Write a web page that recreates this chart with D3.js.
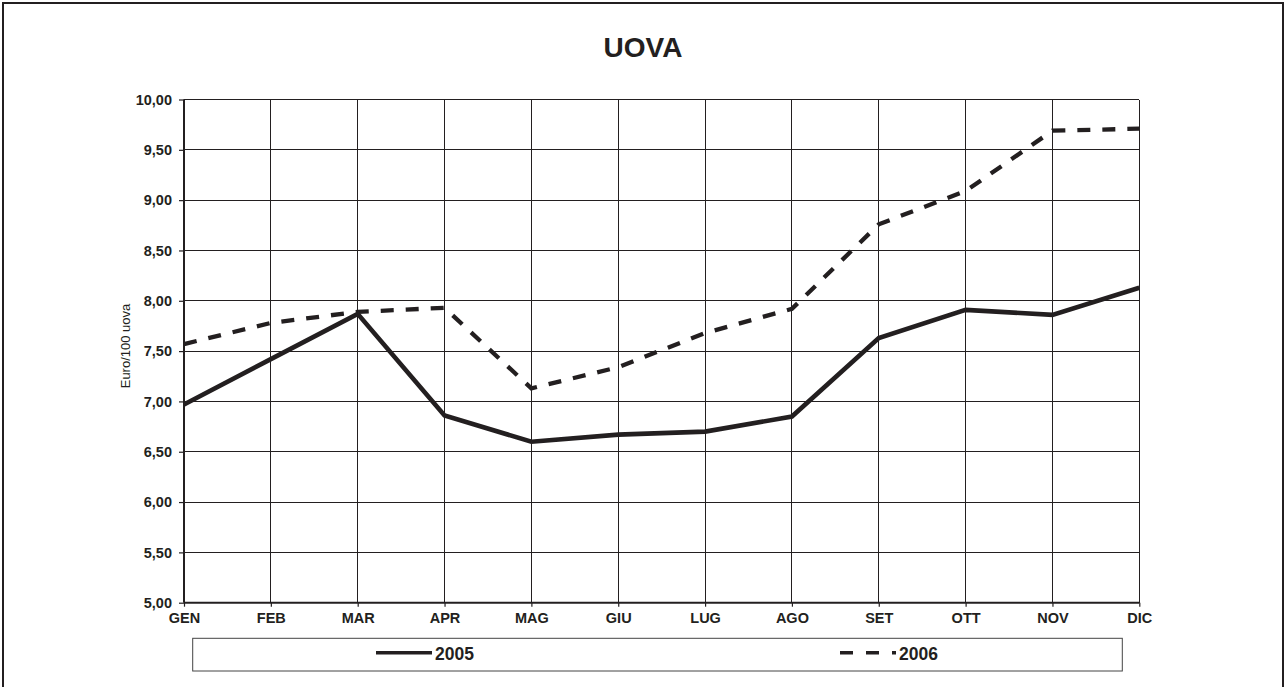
<!DOCTYPE html>
<html>
<head>
<meta charset="utf-8">
<script src="https://cdn.jsdelivr.net/npm/d3@7"></script>
<style>
  body { margin: 0; background: #fff; }
  svg { display: block; font-family: Arial, "Liberation Sans", sans-serif; }
</style>
</head>
<body>
<script>
const width = 1286;
const height = 687;

const months = ['GEN', 'FEB', 'MAR', 'APR', 'MAG', 'GIU', 'LUG', 'AGO', 'SET', 'OTT', 'NOV', 'DIC'];
const values2005 = [6.97, 7.42, 7.87, 6.86, 6.60, 6.67, 6.70, 6.85, 7.63, 7.91, 7.86, 8.13];
const values2006 = [7.57, 7.78, 7.89, 7.93, 7.13, 7.34, 7.68, 7.92, 8.76, 9.09, 9.69, 9.71];
const yTicks = [5, 5.5, 6, 6.5, 7, 7.5, 8, 8.5, 9, 9.5, 10];

const ink = '#231f20';

const svg = d3.select('body').append('svg')
  .attr('width', width)
  .attr('height', height);

// outer frame
svg.append('rect')
  .attr('x', 3).attr('y', 3)
  .attr('width', 1280).attr('height', 720)
  .attr('fill', 'none')
  .attr('stroke', ink)
  .attr('stroke-width', 2);

const x = d3.scalePoint().domain(months).range([184, 1139.3]);
const y = d3.scaleLinear().domain([5, 10]).range([602.7, 99.5]);

const it = d3.formatLocale({ decimal: ',', thousands: '.', grouping: [3], currency: ['€', ''] });
const fmt = it.format('.2f');

// grid
const grid = svg.append('g').attr('stroke', ink).attr('stroke-width', 1).attr('shape-rendering', 'crispEdges');
grid.selectAll('.hg')
  .data(yTicks)
  .join('line')
  .attr('x1', x('GEN')).attr('x2', x('DIC'))
  .attr('y1', d => y(d)).attr('y2', d => y(d));
grid.selectAll('.vg')
  .data(months)
  .join('line')
  .attr('x1', d => x(d)).attr('x2', d => x(d))
  .attr('y1', y(10)).attr('y2', y(5));

// axes
const yAxis = svg.append('g')
  .attr('transform', `translate(${x('GEN')},0)`)
  .call(d3.axisLeft(y).tickValues(yTicks).tickFormat(fmt).tickSize(5).tickPadding(7));
const xAxis = svg.append('g')
  .attr('transform', `translate(0,${y(5)})`)
  .call(d3.axisBottom(x).tickSize(4).tickPadding(6));

[yAxis, xAxis].forEach(a => {
  a.select('.domain').attr('stroke', ink).attr('stroke-width', 2);
  a.selectAll('.tick line').attr('stroke', ink).attr('stroke-width', 1.2);
  a.selectAll('.tick text')
    .attr('fill', ink)
    .attr('font-family', 'Arial, "Liberation Sans", sans-serif')
    .attr('font-weight', 'bold')
    .attr('font-size', 14.5);
});
yAxis.select('.domain').attr('d', `M0,${y(5)}V${y(10)}`);
xAxis.select('.domain').attr('d', `M${x('GEN')},0H${x('DIC')}`);

// title
svg.append('text')
  .attr('x', 643).attr('y', 57)
  .attr('text-anchor', 'middle')
  .attr('font-weight', 'bold')
  .attr('font-size', 28)
  .attr('fill', ink)
  .text('UOVA');

// y label
svg.append('text')
  .attr('transform', 'translate(129.5,346) rotate(-90)')
  .attr('text-anchor', 'middle')
  .attr('font-size', 13)
  .attr('fill', ink)
  .text('Euro/100 uova');

// lines
const line = d3.line().x((d, i) => x(months[i])).y(d => y(d));

svg.append('path')
  .datum(values2006)
  .attr('d', line)
  .attr('fill', 'none')
  .attr('stroke', ink)
  .attr('stroke-width', 4.3)
  .attr('stroke-dasharray', '13,12');

svg.append('path')
  .datum(values2005)
  .attr('d', line)
  .attr('fill', 'none')
  .attr('stroke', ink)
  .attr('stroke-width', 4.6)
  .attr('stroke-linejoin', 'miter');

// legend
const legend = svg.append('g');
legend.append('rect')
  .attr('x', 192.7).attr('y', 638.3)
  .attr('width', 929.6).attr('height', 32.7)
  .attr('fill', '#fff')
  .attr('stroke', '#444')
  .attr('stroke-width', 1);

const legendItems = [
  { label: '2005', x0: 376, x1: 432, dash: null },
  { label: '2006', x0: 840, x1: 896, dash: '13,13' }
];
legendItems.forEach(d => {
  legend.append('line')
    .attr('x1', d.x0).attr('x2', d.x1)
    .attr('y1', 652.7).attr('y2', 652.7)
    .attr('stroke', ink)
    .attr('stroke-width', 3.5)
    .attr('stroke-dasharray', d.dash);
  legend.append('text')
    .attr('x', d.x1 + 3).attr('y', 660)
    .attr('font-weight', 'bold')
    .attr('font-size', 17.5)
    .attr('fill', ink)
    .text(d.label);
});
</script>
</body>
</html>
